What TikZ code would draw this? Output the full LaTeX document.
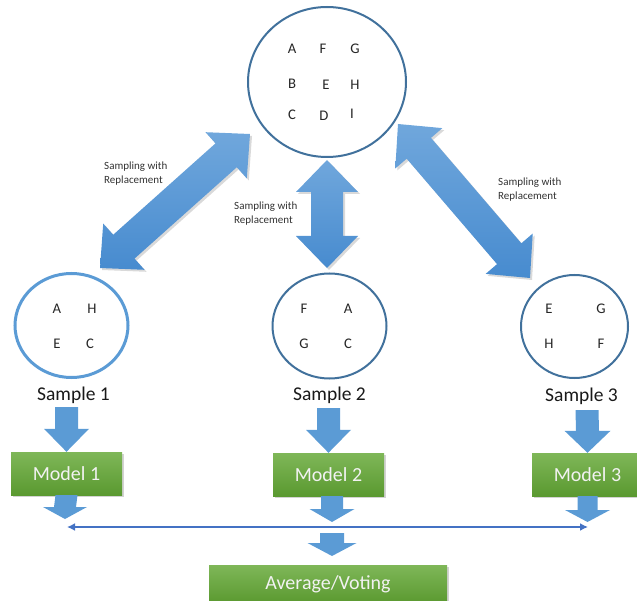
\documentclass[tikz,border=0pt]{standalone}
\usepackage{fontspec}
\setmainfont{Carlito}
\usetikzlibrary{calc,shapes.geometric,shadows,arrows.meta}
\definecolor{circ}{HTML}{41719C}
\definecolor{circl}{HTML}{5B9BD5}
\definecolor{blk}{HTML}{5B9BD5}
\definecolor{bigtop}{HTML}{70A7DC}
\definecolor{bigbot}{HTML}{478BCF}
\definecolor{gtop}{HTML}{7FB758}
\definecolor{gbot}{HTML}{5A9930}
\definecolor{linec}{HTML}{4472C4}

\tikzset{
  letter/.style={font=\fontsize{14.7}{17}\selectfont, text=black!85, inner sep=0pt},
  samp/.style={font=\fontsize{19.5}{23}\selectfont, text=black!90, inner sep=0pt},
  model/.style={rectangle, top color=gtop, bottom color=gbot, minimum width=111pt, minimum height=43pt,
    text=white!95!black, font=\fontsize{20}{24}\selectfont, inner sep=0pt,
    drop shadow={opacity=0.35, shadow xshift=2pt, shadow yshift=-2pt}},
  lbl/.style={font=\fontsize{11}{14}\selectfont, align=left, text=black!80, inner sep=0pt, anchor=west},
  circnode/.style={ellipse, draw=circ, line width=2pt, inner sep=0pt},
  bigarrow/.style={top color=bigtop, bottom color=bigbot,
    drop shadow={opacity=0.3, shadow xshift=2pt, shadow yshift=-2pt}},
  blkarrow/.style={fill=blk},
}

% double block arrow between two tips
\newcommand{\bigdbl}[2]{%
  \coordinate (hA) at ($(#1)!32pt!(#2)$);
  \coordinate (hB) at ($(#2)!32pt!(#1)$);
  \path[bigarrow] (#1) -- ($(hA)!31pt!90:(#2)$) -- ($(hA)!16pt!90:(#2)$)
    -- ($(hB)!16pt!-90:(#1)$) -- ($(hB)!31pt!-90:(#1)$) -- (#2)
    -- ($(hB)!31pt!90:(#1)$) -- ($(hB)!16pt!90:(#1)$)
    -- ($(hA)!16pt!-90:(#2)$) -- ($(hA)!31pt!-90:(#2)$) -- cycle;}

% downward block arrow: #1 top centre, #2 tip, #3 head length, #4 shaft half width, #5 head half width
\newcommand{\blkdown}[5]{%
  \path[blkarrow] ($(#1)+(-#4,0)$) -- ($(#2)+(-#4,-#3)$) -- ($(#2)+(-#5,-#3)$) -- (#2)
    -- ($(#2)+(#5,-#3)$) -- ($(#2)+(#4,-#3)$) -- ($(#1)+(#4,0)$) -- cycle;}

\begin{document}
\begin{tikzpicture}[x=1pt,y=-1pt]
\useasboundingbox (0,0) rectangle (637,601);
\clip (0,0) rectangle (637,601);

% top population
\node[circnode, minimum width=158pt, minimum height=150pt] (top) at (327,82) {};
\node[letter] (tA) at (292,49) {A};
\node[letter] (tF) at (323,49) {F};
\node[letter] (tG) at (355,49) {G};
\node[letter] (tB) at (292,84) {B};
\node[letter] (tE) at (326,85) {E};
\node[letter] (tH) at (355,85) {H};
\node[letter] (tC) at (292,115) {C};
\node[letter] (tD) at (324,116) {D};
\node[letter] (tI) at (352,114) {I};

% samples
\node[circnode, draw=circl, line width=3pt, minimum width=113pt, minimum height=104pt] (c1) at (71.5,325.5) {};
\node[letter] (c1A) at (57,309) {A};
\node[letter] (c1H) at (92,309) {H};
\node[letter] (c1E) at (57,344) {E};
\node[letter] (c1C) at (90,344) {C};

\node[circnode, minimum width=114pt, minimum height=105pt] (c2) at (329.5,326) {};
\node[letter] (c2F) at (304,309) {F};
\node[letter] (c2A) at (348,309) {A};
\node[letter] (c2G) at (304,344) {G};
\node[letter] (c2C) at (348,344) {C};

\node[circnode, minimum width=107pt, minimum height=103pt] (c3) at (574.5,326.5) {};
\node[letter] (c3E) at (549,309) {E};
\node[letter] (c3G) at (601,309) {G};
\node[letter] (c3H) at (549,344) {H};
\node[letter] (c3F) at (601,344) {F};

% big sampling arrows
\coordinate (L1) at (250,134);
\coordinate (L2) at (100,268);
\coordinate (M1) at (327,160);
\coordinate (M2) at (327,268);
\coordinate (R1) at (398,124);
\coordinate (R2) at (530,278);
\bigdbl{L1}{L2}
\bigdbl{M1}{M2}
\bigdbl{R1}{R2}

\node[lbl] (lab1) at (104,174) {Sampling with\\Replacement};
\node[lbl] (lab2) at (234,214) {Sampling with\\Replacement};
\node[lbl] (lab3) at (498,190) {Sampling with\\Replacement};

% sample labels
\node[samp] (s1) at (73.5,395) {Sample 1};
\node[samp] (s2) at (329.5,395) {Sample 2};
\node[samp] (s3) at (581.5,396) {Sample 3};

% models
\node[model] (m1) at (66.5,473.5) {Model 1};
\node[model] (m2) at (328.5,474.5) {Model 2};
\node[model] (m3) at (587.5,474.5) {Model 3};

% arrows sample -> model
\coordinate (a1) at (66.5,407);
\coordinate (a2) at (328.5,408);
\coordinate (a3) at (587,410);
\blkdown{a1}{m1.north}{23}{11.5}{22.5}
\blkdown{a2}{m2.north}{23}{11.5}{22.5}
\blkdown{a3}{m3.north}{22}{11.5}{23}

% arrows model -> line
\coordinate (b1) at (65,519);
\coordinate (b2t) at (332,496);
\coordinate (b2) at (332,522);
\coordinate (b3) at (587.5,522);
\blkdown{m1.south}{b1}{12}{11}{22}
\blkdown{b2t}{b2}{13}{11}{22.5}
\blkdown{m3.south}{b3}{12}{10}{22.5}

% combining line
\coordinate (HL) at (67,527);
\coordinate (HR) at (588,527);
\draw[linec, line width=2.6pt, {Latex[length=8pt,width=8pt]}-{Latex[length=8pt,width=8pt]}] (HL) -- (HR);

% final
\node[model, minimum width=238pt, minimum height=38pt] (avg) at (328,584) {Average/Voting};
\coordinate (ct) at (332,533);
\coordinate (cb) at (332,556);
\blkdown{ct}{cb}{13}{12}{24.5}
\end{tikzpicture}
\end{document}
